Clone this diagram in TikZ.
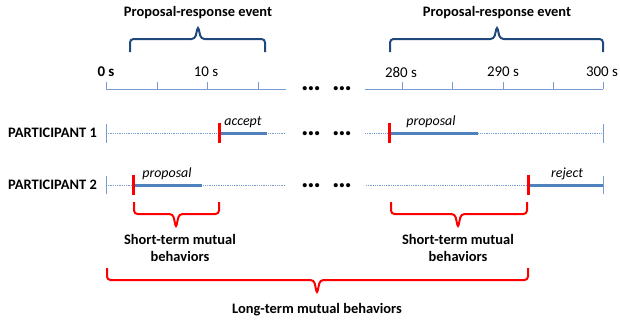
\documentclass[tikz,border=0pt]{standalone}
\usepackage{fontspec}
\setmainfont{Carlito}
\definecolor{axisblue}{RGB}{120,155,210}
\definecolor{barblue}{RGB}{79,129,189}
\definecolor{bracblue}{RGB}{31,73,125}
\begin{document}
\begin{tikzpicture}[x=1bp,y=-1bp,
  axisline/.style={draw=axisblue, line width=0.9bp},
  dotline/.style={draw=axisblue, line width=0.9bp, dash pattern=on 0.9bp off 0.9bp},
  bar/.style={draw=barblue, line width=3bp},
  redtick/.style={draw=red, line width=3bp},
  bluebrace/.style={draw=bracblue, line width=2bp, rounded corners=3.5bp},
  redbrace/.style={draw=red, line width=2bp, rounded corners=3.5bp},
  boldlbl/.style={font=\bfseries\fontsize{14.5}{17}\selectfont, inner sep=0pt},
  numlbl/.style={font=\fontsize{15}{17}\selectfont, inner sep=0pt},
  itlbl/.style={font=\itshape\fontsize{14}{17}\selectfont, inner sep=0pt},
  dots/.style={font=\bfseries\fontsize{28}{28}\selectfont, inner sep=0pt}]
\useasboundingbox (0,0) rectangle (620,324);

% ---------- top braces ----------
\node[boldlbl] (ev1) at (198,13) {Proposal-response event};
\node[boldlbl] (ev2) at (497,13) {Proposal-response event};
\draw[bluebrace] (130,52) -- (130,39) -- (195,39) -- (198,26) -- (201,39) -- (265,39) -- (265,52);
\draw[bluebrace] (390,52) -- (390,39) -- (494,39) -- (497,26) -- (500,39) -- (603,39) -- (603,52);

% ---------- time axis ----------
\coordinate (a0) at (106,89);
\coordinate (a1) at (286,89);
\coordinate (b0) at (365,89);
\coordinate (b1) at (603,89);
\node[boldlbl, font=\bfseries\fontsize{15}{17}\selectfont] (t0) at (106,72) {0 s};
\node[numlbl] (t10) at (206,72) {10 s};
\node[numlbl] (t280) at (401,72) {280 s};
\node[numlbl] (t290) at (503,72) {290 s};
\node[numlbl] (t300) at (602,72) {300 s};
\draw[axisline] (a0) -- (a1);
\draw[axisline] (b0) -- (b1);
\foreach \x in {106,157,207,258,402,452,503,553,603}
  \draw[axisline] (\x,82) -- (\x,89);

\node[dots] (d0) at (311,89) {…};
\node[dots] (d0b) at (342,89) {…};

% ---------- participant 1 ----------
\node[boldlbl, anchor=west] (p1) at (8,133) {PARTICIPANT 1};
\draw[axisline] (106,124) -- (106,143);
\draw[dotline] (106,133) -- (286,133);
\draw[dotline] (365,133) -- (603,133);
\draw[axisline] (603,124) -- (603,143);
\draw[bar] (219,133) -- (267,133);
\draw[redtick] (219,123) -- (219,143);
\node[itlbl] (acc) at (243,122) {accept};
\draw[bar] (389,133) -- (478,133);
\draw[redtick] (389,123) -- (389,143);
\node[itlbl] (prop1) at (431,122) {proposal};
\node[dots] (d1) at (311,134) {…};
\node[dots] (d1b) at (342,134) {…};

% ---------- participant 2 ----------
\node[boldlbl, anchor=west] (p2) at (8,185) {PARTICIPANT 2};
\draw[axisline] (106,176) -- (106,194);
\draw[dotline] (106,185) -- (286,185);
\draw[dotline] (366,185) -- (528,185);
\draw[bar] (133,185) -- (202,185);
\draw[redtick] (133,175) -- (133,195);
\node[itlbl] (prop2) at (167,174) {proposal};
\draw[bar] (528,185) -- (603,185);
\draw[redtick] (528,175) -- (528,195);
\draw[axisline] (603,176) -- (603,194);
\node[itlbl] (rej) at (567,174) {reject};
\node[dots] (d2) at (311,186) {…};
\node[dots] (d2b) at (342,186) {…};

% ---------- red braces ----------
\draw[redbrace] (134,202) -- (134,214) -- (173,214) -- (176,228) -- (179,214) -- (219,214) -- (219,202);
\node[boldlbl, align=center] (s1) at (180,248) {Short-term mutual\\behaviors};
\draw[redbrace] (391,202) -- (391,214) -- (455,214) -- (458,228) -- (461,214) -- (527,214) -- (527,202);
\node[boldlbl, align=center] (s2) at (458,248) {Short-term mutual\\behaviors};
\draw[redbrace] (107,268) -- (107,280) -- (314,280) -- (317,294) -- (320,280) -- (528,280) -- (528,268);
\node[boldlbl] (lt) at (317,310) {Long-term mutual behaviors};
\end{tikzpicture}
\end{document}
